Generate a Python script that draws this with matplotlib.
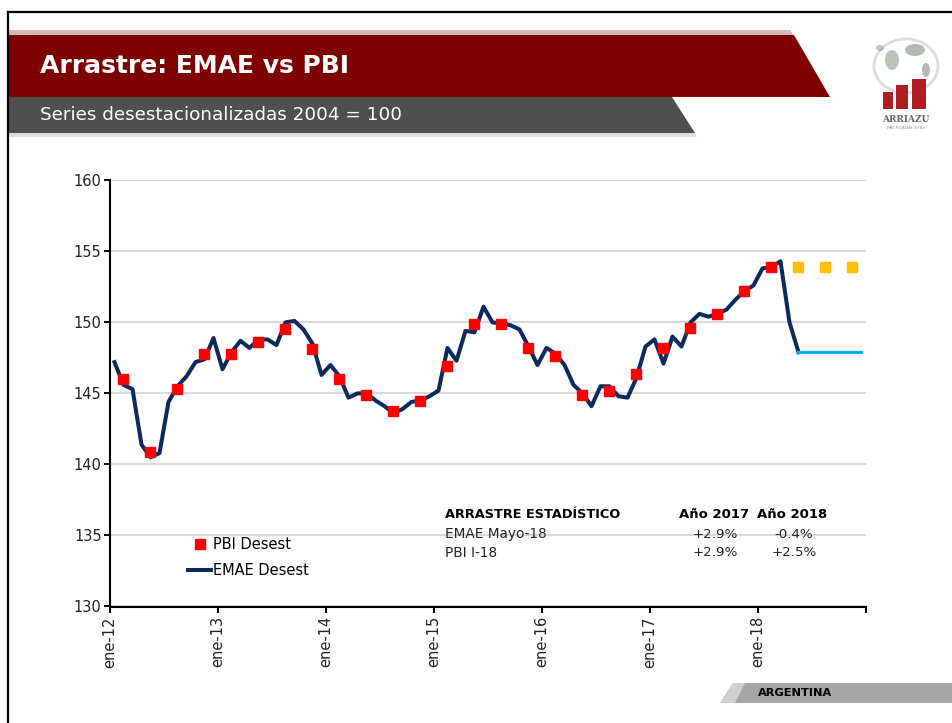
import numpy as np
import matplotlib
matplotlib.use('Agg')
import matplotlib.pyplot as plt
from matplotlib.patches import Polygon, Rectangle, Ellipse
from matplotlib.lines import Line2D

plt.rcParams['font.family'] = ['DejaVu Sans']

# EMAE desestacionalizado, mensual desde ene-12
emae = [147.2, 145.6, 145.3, 141.4, 140.5, 140.8, 144.4, 145.5, 146.2, 147.2,
        147.4, 148.9, 146.7, 147.9, 148.7, 148.2, 148.8, 148.8, 148.4, 150.0,
        150.1, 149.5, 148.5, 146.3, 147.0, 146.2, 144.7, 145.0, 145.0, 144.5,
        144.1, 143.6, 143.9, 144.4, 144.5, 144.8, 145.2, 148.2, 147.3, 149.4,
        149.3, 151.1, 150.0, 149.9, 149.8, 149.5, 148.3, 147.0, 148.2, 147.8,
        147.0, 145.6, 145.0, 144.1, 145.5, 145.5, 144.8, 144.7, 146.1, 148.3,
        148.8, 147.1, 149.0, 148.3, 150.0, 150.6, 150.4, 150.6, 150.9, 151.6,
        152.2, 152.6, 153.8, 153.9, 154.3, 150.0, 147.9]
# arrastre EMAE (mayo-18 constante hasta dic-18)
emae_arrastre = [147.9] * 8
# PBI desestacionalizado, trimestral (mes central de cada trimestre)
pbi = [146.0, 140.9, 145.3, 147.8, 147.8, 148.6, 149.5, 148.1, 146.0, 144.9,
       143.75, 144.5, 146.9, 149.9, 149.9, 148.2, 147.65, 144.9, 145.2, 146.4,
       148.2, 149.6, 150.6, 152.2, 153.9]
# arrastre PBI (I-18 constante)
pbi_arrastre = [153.9] * 3

tick_labels = ['ene-12', 'ene-13', 'ene-14', 'ene-15', 'ene-16', 'ene-17', 'ene-18', '']

tabla_header = ['ARRASTRE ESTADÍSTICO', 'Año 2017', 'Año 2018']
tabla_filas = ['EMAE Mayo-18', 'PBI I-18']
tabla_2017 = ['+2.9%', '+2.9%']
tabla_2018 = ['-0.4%', '+2.5%']

# posiciones en meses (centro de cada categoria)
x_emae = np.arange(len(emae)) + 0.5
x_emae_arr = np.arange(len(emae) - 1, len(emae) - 1 + len(emae_arrastre)) + 0.5
x_pbi = np.arange(1, 3 * len(pbi), 3) + 0.5
x_pbi_arr = np.arange(3 * len(pbi) + 1, 3 * len(pbi) + 1 + 3 * len(pbi_arrastre), 3) + 0.5

W, H = 953, 723
fig = plt.figure(figsize=(W / 100, H / 100), dpi=100)

# ---- decoracion de la diapositiva (coordenadas en pixeles)
deco = fig.add_axes([0, 0, 1, 1], zorder=0)
deco.set_xlim(0, W)
deco.set_ylim(H, 0)
deco.axis('off')

deco.plot([8, W], [12, 12], color='black', lw=1.6)
deco.plot([8, 8], [12, H], color='black', lw=1.6)

# banda roja
deco.add_patch(Polygon([[9, 30], [790, 30], [794, 36], [9, 36]], closed=True,
                       facecolor='#d4baba', edgecolor='none'))
deco.add_patch(Polygon([[9, 35], [794, 35], [830, 97], [9, 97]], closed=True,
                       facecolor='#7f0000', edgecolor='none'))
# banda gris
deco.add_patch(Polygon([[9, 97], [672, 97], [695, 133], [9, 133]], closed=True,
                       facecolor='#4f4f4f', edgecolor='none'))
deco.add_patch(Polygon([[9, 133], [695, 133], [697, 137], [9, 137]], closed=True,
                       facecolor='#dddddd', edgecolor='none'))

deco.text(40, 66, 'Arrastre: EMAE vs PBI', color='white', fontsize=18,
          fontweight='bold', va='center', ha='left')
deco.text(40, 115, 'Series desestacionalizadas 2004 = 100', color='white',
          fontsize=13.2, va='center', ha='left')

# logo
deco.add_patch(Ellipse((906, 66), 64, 54, facecolor='none', edgecolor='#dcdcdc', lw=2))
deco.add_patch(Ellipse((892, 60), 14, 20, facecolor='#909c90', edgecolor='none', alpha=0.6))
deco.add_patch(Ellipse((915, 50), 20, 12, facecolor='#808c80', edgecolor='none', alpha=0.6))
deco.add_patch(Ellipse((926, 70), 8, 14, facecolor='#8a8a8a', edgecolor='none', alpha=0.6))
deco.add_patch(Ellipse((880, 48), 8, 6, facecolor='#9a9a9a', edgecolor='none', alpha=0.6))
deco.add_patch(Rectangle((883, 92), 10, 17, facecolor='#b01c24', edgecolor='none'))
deco.add_patch(Rectangle((896, 85), 12, 24, facecolor='#b01c24', edgecolor='none'))
deco.add_patch(Rectangle((912, 79), 14, 30, facecolor='#b01c24', edgecolor='none'))
deco.text(906, 120, 'ARRIAZU', color='#666666', fontsize=6.5, fontweight='bold',
          ha='center', va='center', family='DejaVu Serif')
deco.text(906, 128, 'MACROANALISTAS', color='#999999', fontsize=3.2,
          ha='center', va='center')

# banda ARGENTINA
deco.add_patch(Polygon([[733, 683], [W, 683], [W, 703], [720, 703]], closed=True,
                       facecolor='#a6a6a6', edgecolor='none'))
deco.add_patch(Polygon([[733, 683], [745, 683], [735, 703], [720, 703]], closed=True,
                       facecolor='#d0d0d0', edgecolor='none'))
deco.text(795, 693, 'ARGENTINA', color='black', fontsize=8.2, fontweight='bold',
          ha='center', va='center')

# ---- grafico
ax = fig.add_axes([110 / W, (H - 606.5) / H, 756 / W, 426.2 / H], zorder=1)
ax.set_facecolor('none')

ax.plot(x_emae, emae, color='#0d2a5e', lw=2.9, solid_joinstyle='round', zorder=3,
        label='EMAE Desest')
ax.plot(x_emae_arr, emae_arrastre, color='#00b0f0', lw=2.4, zorder=3)
ax.plot(x_pbi, pbi, ls='none', marker='s', ms=6.8, color='#ff0000', zorder=4,
        label='PBI Desest')
ax.plot(x_pbi_arr, pbi_arrastre, ls='none', marker='s', ms=6.8, color='#ffc000', zorder=4)

ax.set_xlim(0, 84)
ax.set_ylim(130, 160)
ax.set_yticks(np.arange(130, 161, 5))
ax.set_xticks(np.arange(0, 85, 12))
ax.set_xticklabels(tick_labels, rotation=90, fontsize=10.5, color='#222222')
ax.tick_params(axis='y', labelsize=10.5, labelcolor='#222222', length=4, width=1.4, pad=2)
ax.tick_params(axis='x', length=4, width=1.4, pad=3)
ax.yaxis.grid(True, color='#d9d9d9', lw=1.5)
ax.set_axisbelow(True)
for s in ['top', 'right']:
    ax.spines[s].set_visible(False)
for s in ['left', 'bottom']:
    ax.spines[s].set_linewidth(1.5)
    ax.spines[s].set_color('black')

handles = [Line2D([], [], ls='none', marker='s', ms=6.8, color='#ff0000'),
           Line2D([], [], color='#0d2a5e', lw=2.9)]
fig.legend(handles, ['PBI Desest', 'EMAE Desest'], loc='upper left',
           bbox_to_anchor=(188 / W, 1 - 537 / H), bbox_transform=fig.transFigure,
           frameon=False, fontsize=10.5, handlelength=1.6, handletextpad=0.1,
           labelspacing=0.75, borderpad=0, borderaxespad=0)

# tabla de arrastre
deco2 = fig.add_axes([0, 0, 1, 1], zorder=2)
deco2.set_xlim(0, W)
deco2.set_ylim(H, 0)
deco2.axis('off')
deco2.text(445, 515, tabla_header[0], fontsize=9.3, fontweight='bold', va='center', ha='left')
deco2.text(714, 515, tabla_header[1], fontsize=9.5, fontweight='bold', va='center', ha='center')
deco2.text(792, 515, tabla_header[2], fontsize=9.5, fontweight='bold', va='center', ha='center')
for k, fila in enumerate(tabla_filas):
    yy = 534 + 19 * k
    deco2.text(445, yy, fila, fontsize=9.8, va='center', ha='left', color='#222222')
    deco2.text(715, yy, tabla_2017[k], fontsize=9.6, va='center', ha='center', color='#222222')
    deco2.text(794, yy, tabla_2018[k], fontsize=9.6, va='center', ha='center', color='#222222')

fig.savefig('out.png', dpi=100)
